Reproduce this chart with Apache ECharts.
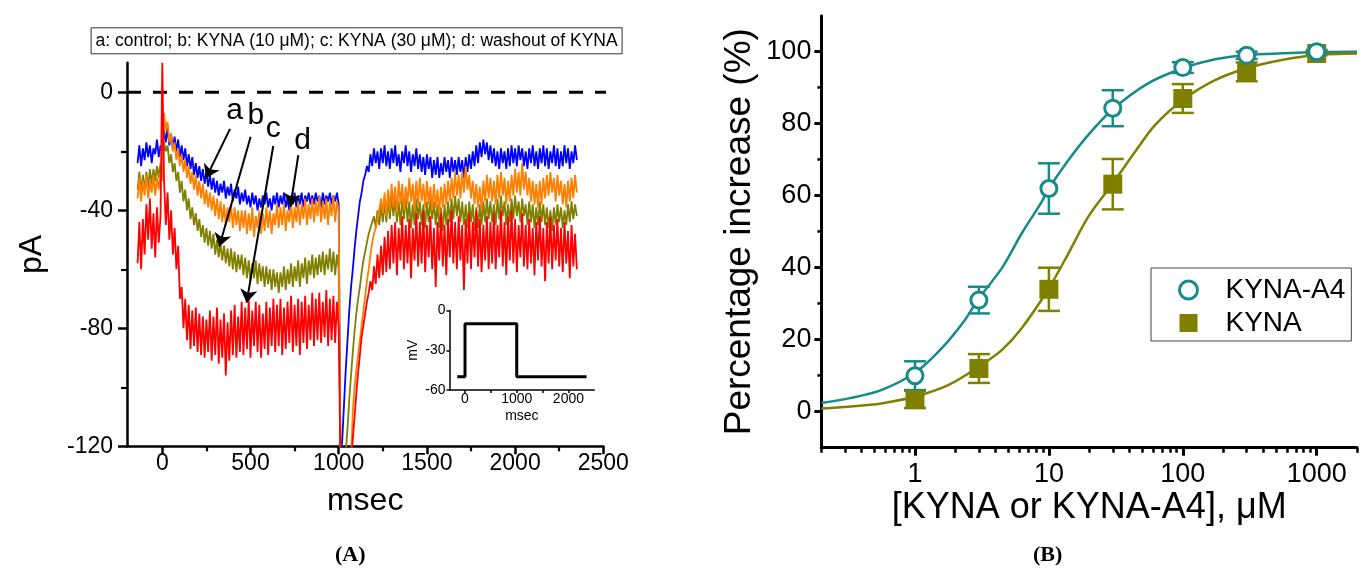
<!DOCTYPE html>
<html><head><meta charset="utf-8">
<script src="https://cdn.jsdelivr.net/npm/echarts@6/dist/echarts.min.js"></script>
<style>html,body{margin:0;padding:0;background:#fff}#c{width:1365px;height:571px}</style>
</head><body><div id="c"></div>
<script>
// ---------- Panel A: current traces (pA) vs time (msec) ----------
const tMs = [
-140,-130,-120,-110,-100,-90,-80,-70,-60,-50,-40,-30,-20,-10,0,10,20,30,40,50,
60,70,80,90,100,110,120,130,140,150,160,170,180,190,200,210,220,230,240,250,
260,270,280,290,300,310,320,330,340,350,360,370,380,390,400,410,420,430,440,450,
460,470,480,490,500,510,520,530,540,550,560,570,580,590,600,610,620,630,640,650,
660,670,680,690,700,710,720,730,740,750,760,770,780,790,800,810,820,830,840,850,
860,870,880,890,900,910,920,930,940,950,960,970,980,990,1000,1010,1020,1030,1040,1050,
1060,1070,1080,1090,1100,1110,1120,1130,1140,1150,1160,1170,1180,1190,1200,1210,1220,1230,1240,1250,
1260,1270,1280,1290,1300,1310,1320,1330,1340,1350,1360,1370,1380,1390,1400,1410,1420,1430,1440,1450,
1460,1470,1480,1490,1500,1510,1520,1530,1540,1550,1560,1570,1580,1590,1600,1610,1620,1630,1640,1650,
1660,1670,1680,1690,1700,1710,1720,1730,1740,1750,1760,1770,1780,1790,1800,1810,1820,1830,1840,1850,
1860,1870,1880,1890,1900,1910,1920,1930,1940,1950,1960,1970,1980,1990,2000,2010,2020,2030,2040,2050,
2060,2070,2080,2090,2100,2110,2120,2130,2140,2150,2160,2170,2180,2190,2200,2210,2220,2230,2240,2250,
2260,2270,2280,2290,2300,2310,2320,2330,2340,2350];

// a: control (blue)
const traceA = [
-24,-18,-25,-19,-23,-17,-22,-18,-24,-19,-21,-16,-22,-18,-20,-13,-17,-12,-18,-14,
-19,-15,-20,-16,-22,-18,-23,-19,-25,-21,-26,-22,-28,-24,-29,-25,-30,-26,-31,-27,
-32,-28,-33,-29,-34,-30,-35,-31,-34,-30,-36,-32,-35,-31,-37,-33,-36,-32,-38,-34,
-37,-33,-38,-35,-39,-34,-38,-35,-40,-36,-39,-35,-38,-34,-39,-36,-40,-35,-38,-34,
-39,-35,-38,-34,-39,-36,-40,-35,-38,-34,-39,-35,-38,-34,-39,-35,-37,-34,-38,-35,
-38,-34,-37,-35,-39,-34,-38,-35,-37,-34,-38,-35,-37,-34,-38,-125,-118,-106,-94,-84,
-74,-66,-60,-53,-47,-42,-37,-34,-30,-28,-25,-27,-21,-25,-19,-24,-20,-26,-19,-24,
-18,-25,-20,-26,-19,-24,-18,-25,-21,-27,-20,-24,-18,-25,-20,-27,-21,-25,-19,-26,
-21,-27,-22,-28,-21,-26,-22,-29,-23,-28,-22,-29,-24,-28,-22,-27,-23,-29,-22,-27,
-23,-28,-22,-27,-23,-29,-22,-27,-21,-26,-20,-25,-18,-24,-17,-22,-16,-21,-17,-23,
-18,-24,-19,-25,-20,-26,-19,-24,-20,-26,-19,-25,-18,-24,-19,-25,-18,-23,-19,-25,
-20,-26,-19,-24,-18,-25,-20,-26,-19,-24,-18,-25,-19,-26,-20,-24,-18,-25,-19,-26,
-20,-25,-18,-24,-19,-26,-20,-24,-18,-23];

// b: KYNA 10 uM (olive)
const traceB = [
-33,-27,-34,-28,-33,-27,-32,-26,-31,-26,-30,-25,-29,-24,-27,-17,-20,-18,-24,-21,
-27,-24,-30,-27,-34,-30,-37,-33,-40,-36,-43,-39,-45,-41,-47,-43,-49,-45,-51,-46,
-52,-47,-53,-48,-55,-50,-56,-51,-57,-52,-58,-53,-59,-53,-60,-54,-61,-55,-60,-55,
-62,-56,-63,-57,-64,-58,-63,-57,-65,-58,-64,-59,-66,-59,-65,-60,-67,-60,-66,-61,
-68,-61,-66,-59,-67,-60,-65,-58,-66,-59,-64,-57,-66,-58,-63,-56,-65,-57,-62,-55,
-63,-56,-62,-55,-61,-54,-62,-55,-60,-53,-61,-54,-62,-55,-60,-125,-125,-125,-122,-114,
-104,-96,-88,-81,-75,-70,-66,-61,-57,-54,-51,-48,-46,-44,-42,-46,-40,-45,-38,-44,
-37,-44,-36,-43,-35,-42,-36,-44,-37,-45,-36,-43,-35,-44,-37,-46,-38,-45,-36,-43,
-37,-45,-38,-46,-37,-44,-36,-43,-37,-45,-38,-46,-39,-47,-38,-45,-37,-44,-36,-43,
-35,-42,-36,-44,-37,-45,-38,-46,-37,-44,-38,-47,-39,-46,-38,-45,-37,-44,-36,-43,
-37,-44,-38,-45,-36,-43,-35,-42,-37,-45,-38,-44,-36,-43,-35,-42,-37,-44,-36,-42,
-38,-45,-37,-44,-38,-46,-39,-45,-37,-44,-38,-45,-39,-46,-40,-47,-39,-45,-38,-44,
-39,-46,-40,-45,-38,-44,-37,-43,-38,-42];

// c: KYNA 30 uM (red)
const traceC = [
-58,-44,-60,-43,-55,-38,-50,-36,-53,-41,-56,-39,-51,-42,10,-30,-45,-34,-50,-40,
-55,-46,-60,-52,-70,-66,-80,-70,-84,-72,-87,-74,-86,-73,-88,-75,-89,-76,-90,-77,
-88,-74,-91,-76,-89,-73,-92,-77,-90,-75,-96,-78,-91,-74,-89,-72,-90,-76,-88,-71,
-89,-73,-87,-70,-90,-74,-86,-71,-88,-72,-90,-75,-87,-71,-89,-73,-86,-70,-88,-72,
-86,-70,-89,-73,-87,-71,-85,-69,-88,-72,-86,-70,-89,-71,-85,-69,-87,-72,-84,-68,
-86,-70,-84,-68,-85,-71,-83,-67,-86,-70,-84,-69,-85,-71,-80,-125,-125,-125,-125,-125,
-125,-125,-125,-110,-102,-95,-89,-83,-79,-75,-71,-68,-64,-67,-59,-65,-55,-63,-52,-62,
-49,-61,-47,-60,-45,-58,-44,-62,-46,-57,-42,-60,-45,-58,-43,-63,-46,-57,-41,-59,
-44,-58,-40,-61,-45,-56,-42,-60,-46,-66,-44,-57,-41,-59,-45,-62,-43,-56,-40,-58,
-44,-60,-42,-57,-45,-67,-43,-58,-41,-60,-44,-56,-40,-59,-43,-61,-45,-57,-42,-60,
-44,-58,-41,-60,-45,-56,-40,-59,-44,-62,-42,-57,-40,-58,-43,-61,-45,-56,-41,-59,
-45,-60,-43,-58,-46,-62,-44,-57,-42,-59,-46,-64,-44,-58,-42,-60,-45,-57,-43,-59,
-46,-61,-44,-58,-47,-63,-45,-59,-48,-60];

// d: washout (orange)
const traceD = [
-36,-29,-37,-30,-35,-28,-36,-30,-34,-28,-35,-29,-33,-27,-30,-7,-13,-10,-17,-14,
-20,-17,-23,-19,-25,-21,-27,-23,-29,-25,-31,-27,-33,-28,-35,-30,-36,-31,-38,-33,
-39,-34,-40,-35,-42,-36,-43,-37,-44,-38,-45,-39,-44,-38,-46,-39,-45,-40,-47,-40,
-46,-40,-48,-41,-47,-39,-49,-42,-46,-40,-48,-41,-47,-39,-46,-40,-48,-41,-45,-38,
-46,-39,-45,-38,-47,-40,-44,-37,-46,-39,-44,-37,-45,-38,-43,-36,-45,-38,-43,-36,
-44,-37,-42,-35,-44,-37,-43,-36,-45,-37,-42,-35,-44,-37,-40,-125,-125,-125,-125,-125,
-125,-125,-108,-100,-94,-89,-84,-79,-74,-69,-64,-60,-55,-51,-48,-46,-43,-40,-36,-41,
-34,-42,-33,-40,-31,-39,-32,-41,-30,-38,-31,-40,-32,-38,-29,-37,-31,-40,-30,-38,
-29,-37,-31,-39,-30,-38,-32,-40,-31,-39,-33,-41,-32,-39,-31,-38,-30,-37,-29,-36,
-27,-35,-28,-36,-27,-34,-25,-33,-28,-36,-30,-38,-31,-39,-32,-40,-30,-37,-28,-36,
-29,-37,-30,-38,-28,-36,-27,-35,-29,-38,-30,-37,-28,-35,-26,-34,-27,-35,-24,-33,
-27,-35,-29,-37,-30,-38,-31,-39,-30,-38,-29,-36,-28,-35,-27,-34,-29,-37,-28,-35,
-30,-38,-31,-39,-30,-37,-29,-36,-28,-34];

const zeroLineX = [-200, 2580];
const zeroLineY = [0, 0];

// annotation letters and arrows (data coordinates)
const tagNames = ['a', 'b', 'c', 'd'];
const tagX = [410, 530, 629, 795];
const tagY = [-6.1, -7.8, -12.3, -16.3];
const arrowFromX = [384, 501, 629, 771];
const arrowFromY = [-12.4, -15.1, -18.2, -21.3];
const arrowToX = [248, 323, 478, 726];
const arrowToY = [-29.1, -52.3, -71.3, -38.8];

// inset voltage protocol
const stepX = [-150, 0, 0, 1000, 1000, 2350];
const stepY = [-50, -50, -10, -10, -50, -50];

// ticks
const aXTicks = [0, 500, 1000, 1500, 2000, 2500];
const aXMinor = [250, 750, 1250, 1750, 2250];
const aYTicks = [-120, -80, -40, 0];
const aYMinor = [-100, -60, -20];
const inXTicks = [0, 1000, 2000];
const inXMinor = [500, 1500];
const inYTicks = [-60, -30, 0];

// ---------- Panel B: concentration-response ----------
const concB = [1, 3, 10, 30, 100, 300, 1000];
const a4Mean = [10, 31, 62, 84.3, 95.6, 99, 100];
const a4Err = [4, 3.7, 7, 5, 1.5, 1, 0.5];
const kynaMean = [3.4, 12, 34, 63.2, 87, 94.4, 99.5];
const kynaErr = [2.4, 4, 6, 7, 4, 2.6, 0.5];

const a4FitX = [0.2, 0.32, 0.56, 1, 1.58, 2.36, 3, 4.44, 6.26, 8.83, 10, 14, 19.7, 30, 55, 100, 174, 300, 1000, 2000];
const a4FitY = [2.4, 3.7, 6.0, 10.8, 17.6, 25.5, 31.5, 39.8, 49.5, 58.3, 62, 69.9, 76.9, 84.0, 91.2, 95.4, 97.9, 99.1, 99.9, 100];
const kynaFitX = [0.2, 0.32, 0.56, 1, 1.77, 3, 4.44, 6.26, 10, 14, 19.7, 30, 44, 62, 100, 174, 300, 548, 1000, 2000];
const kynaFitY = [0.9, 1.4, 2.3, 4.2, 7.4, 12.5, 17.1, 23.2, 34.3, 44.0, 54.2, 63.4, 72.2, 79.6, 86.6, 92.1, 95.4, 97.7, 99.1, 99.5];

const bXTicks = [1, 10, 100, 1000];
const bXMinor = [0.2,0.3,0.4,0.5,0.6,0.7,0.8,0.9,2,3,4,5,6,7,8,9,20,30,40,50,60,70,80,90,200,300,400,500,600,700,800,900,2000];
const bYTicks = [0, 20, 40, 60, 80, 100];
const bYMinor = [10, 30, 50, 70, 90];

// ---------- chart ----------
const FONT = 'Liberation Sans';
const BLACK = '#000';
const TEAL = '#178a8a';
const OLIVE = '#808000';
const pairs = (xs, ys) => xs.map((x, i) => [x, ys[i]]);
const fmt = v => { const r = Math.round(v); return Math.abs(v - r) < 1e-6 ? String(r) : String(v); };

function mainAxis(o) {
  return Object.assign({
    type: 'value', splitLine: {show: false},
    axisLine: {onZero: false, lineStyle: {color: BLACK, width: o.lw}},
    axisTick: {customValues: o.ticks, length: o.tl, lineStyle: {color: BLACK, width: o.lw}},
    axisLabel: {customValues: o.labels || o.ticks, margin: o.margin, fontSize: o.fs, fontFamily: FONT, color: BLACK, formatter: fmt},
    nameLocation: 'middle', nameMoveOverlap: false,
    nameTextStyle: {fontSize: o.nfs, fontFamily: FONT, color: BLACK}
  }, o.extra);
}
function minorAxis(o) {
  return Object.assign({
    type: 'value', splitLine: {show: false},
    axisLine: {show: false, onZero: false},
    axisTick: {customValues: o.ticks, length: o.tl, lineStyle: {color: BLACK, width: o.lw}},
    axisLabel: {show: false}
  }, o.extra);
}

const xAxes = [
  mainAxis({lw: 2.5, ticks: aXTicks, tl: 8, margin: 6, fs: 23, nfs: 32,
    extra: {gridIndex: 0, min: -200, max: 2500, position: 'bottom', name: 'msec', nameGap: 39}}),
  minorAxis({lw: 2.2, ticks: aXMinor, tl: 5, extra: {gridIndex: 0, min: -200, max: 2500, position: 'bottom'}}),
  mainAxis({lw: 1.5, ticks: inXTicks, tl: 3, margin: 2, fs: 14, nfs: 14,
    extra: {gridIndex: 1, min: -300, max: 2500, position: 'bottom', name: 'msec', nameGap: 19}}),
  minorAxis({lw: 1.5, ticks: inXMinor, tl: 3, extra: {gridIndex: 1, min: -300, max: 2500, position: 'bottom'}}),
  mainAxis({lw: 3, ticks: bXTicks, tl: 8, margin: 13, fs: 27, nfs: 36,
    extra: {gridIndex: 2, type: 'log', logBase: 10, min: 0.2, max: 2000, position: 'bottom', name: '[KYNA or KYNA-A4], \u03bcM', nameGap: 42}}),
  minorAxis({lw: 2.5, ticks: bXMinor, tl: 5, extra: {gridIndex: 2, type: 'log', logBase: 10, min: 0.2, max: 2000, position: 'bottom'}})
];
const yAxes = [
  mainAxis({lw: 2.5, ticks: aYTicks, tl: 9, margin: 14, fs: 23, nfs: 32,
    extra: {gridIndex: 0, min: -120, max: 10, position: 'left', name: 'pA', nameGap: 79}}),
  minorAxis({lw: 2.2, ticks: aYMinor, tl: 6, extra: {gridIndex: 0, min: -120, max: 10, position: 'left'}}),
  mainAxis({lw: 1.5, ticks: inYTicks, tl: 3, margin: 4, fs: 14, nfs: 14,
    extra: {gridIndex: 1, min: -60, max: 0, position: 'left', name: 'mV', nameGap: 29}}),
  minorAxis({lw: 1.5, ticks: [], tl: 3, extra: {gridIndex: 1, min: -60, max: 0, position: 'left'}}),
  mainAxis({lw: 3, ticks: bYTicks, tl: 7, margin: 10, fs: 27, nfs: 37,
    extra: {gridIndex: 2, min: -10, max: 110, position: 'left', name: 'Percentage increase (%)', nameGap: 63}}),
  minorAxis({lw: 2.5, ticks: bYMinor, tl: 4, extra: {gridIndex: 2, min: -10, max: 110, position: 'left'}})
];

function trace(name, xs, ys, color) {
  return {type: 'line', name, xAxisIndex: 0, yAxisIndex: 0, data: pairs(xs, ys),
    symbol: 'none', lineStyle: {color, width: 1.8}, itemStyle: {color}, z: 3};
}
function errBars(name, xs, m, e, color) {
  return {type: 'custom', name, xAxisIndex: 4, yAxisIndex: 4, z: 4,
    data: xs.map((x, i) => [x, m[i] - e[i], m[i] + e[i]]),
    encode: {x: 0, y: [1, 2]},
    renderItem(params, api) {
      const x = api.value(0);
      const lo = api.coord([x, api.value(1)]);
      const hi = api.coord([x, api.value(2)]);
      const w = 11, st = {stroke: color, lineWidth: 2.5};
      return {type: 'group', children: [
        {type: 'line', shape: {x1: lo[0], y1: lo[1], x2: hi[0], y2: hi[1]}, style: st},
        {type: 'line', shape: {x1: lo[0] - w, y1: lo[1], x2: lo[0] + w, y2: lo[1]}, style: st},
        {type: 'line', shape: {x1: hi[0] - w, y1: hi[1], x2: hi[0] + w, y2: hi[1]}, style: st}
      ]};
    }};
}

const option = {
  animation: false,
  backgroundColor: '#fff',
  title: [
    {text: 'a: control; b: KYNA (10 \u03bcM); c: KYNA (30 \u03bcM); d: washout of KYNA',
     left: 90.6, top: 27.3, padding: [5, 5, 4, 5], borderColor: '#333', borderWidth: 1,
     textStyle: {fontSize: 17.5, fontWeight: 'normal', fontFamily: FONT, color: BLACK}},
    {text: '(A)', left: 335, top: 544, padding: 0, textStyle: {fontFamily: 'Liberation Serif', fontWeight: 'bold', fontSize: 22, color: BLACK}},
    {text: '(B)', left: 1033, top: 544, padding: 0, textStyle: {fontFamily: 'Liberation Serif', fontWeight: 'bold', fontSize: 22, color: BLACK}}
  ],
  legend: {
    data: [
      {name: 'KYNA-A4', icon: 'circle', itemStyle: {color: '#fff', borderColor: TEAL, borderWidth: 3, opacity: 1}},
      {name: 'KYNA', icon: 'rect', itemStyle: {color: OLIVE, opacity: 1}}
    ],
    orient: 'vertical', left: 1151, top: 268, itemWidth: 18, itemHeight: 18, itemGap: 5,
    padding: [8, 6, 4, 27], borderColor: '#444', borderWidth: 1, selectedMode: false,
    textStyle: {fontSize: 28, fontFamily: FONT, color: BLACK, padding: [0, 0, 0, 23]}
  },
  grid: [
    {left: 127, top: 62.8, width: 476.3, height: 383.5, outerBoundsMode: 'none'},
    {left: 449.5, top: 310.5, width: 144.8, height: 79.5, outerBoundsMode: 'none'},
    {left: 821.4, top: 15.7, width: 535.6, height: 432, outerBoundsMode: 'none'}
  ],
  xAxis: xAxes,
  yAxis: yAxes,
  series: [
    {type: 'line', name: 'zero', xAxisIndex: 0, yAxisIndex: 0, data: pairs(zeroLineX, zeroLineY), clip: false,
     symbol: 'none', z: 2, lineStyle: {color: BLACK, width: 3, type: [14, 12]}},
    trace('a', tMs, traceA, '#0000ff'),
    trace('b', tMs, traceB, '#808000'),
    trace('d', tMs, traceD, '#ff8000'),
    trace('c', tMs, traceC, '#ff0000'),
    {type: 'scatter', name: 'tags', xAxisIndex: 0, yAxisIndex: 0, z: 6, symbolSize: 1,
     itemStyle: {color: 'rgba(0,0,0,0)'},
     data: tagNames.map((n, i) => ({name: n, value: [tagX[i], tagY[i]]})),
     label: {show: true, position: 'inside', formatter: p => p.name, fontSize: 30, fontFamily: FONT,
             color: BLACK, textBorderWidth: 0, opacity: 1},
     markLine: {silent: true, animation: false, symbol: ['none', 'arrow'], symbolSize: 13,
       label: {show: false}, lineStyle: {color: BLACK, width: 2, type: 'solid', opacity: 1},
       emphasis: {disabled: true},
       data: tagNames.map((n, i) => [{coord: [arrowFromX[i], arrowFromY[i]]}, {coord: [arrowToX[i], arrowToY[i]]}])}},
    {type: 'line', name: 'step', xAxisIndex: 2, yAxisIndex: 2, data: pairs(stepX, stepY),
     symbol: 'none', lineStyle: {color: BLACK, width: 3}, z: 3},
    {type: 'line', name: 'KYNA-A4 fit', xAxisIndex: 4, yAxisIndex: 4, data: pairs(a4FitX, a4FitY),
     smooth: 0.3, symbol: 'none', lineStyle: {color: TEAL, width: 2.5}, z: 2},
    {type: 'line', name: 'KYNA fit', xAxisIndex: 4, yAxisIndex: 4, data: pairs(kynaFitX, kynaFitY),
     smooth: 0.3, symbol: 'none', lineStyle: {color: OLIVE, width: 2.5}, z: 2},
    errBars('KYNA err', concB, kynaMean, kynaErr, OLIVE),
    errBars('KYNA-A4 err', concB, a4Mean, a4Err, TEAL),
    {type: 'scatter', name: 'KYNA', xAxisIndex: 4, yAxisIndex: 4, data: pairs(concB, kynaMean),
     symbol: 'rect', symbolSize: 19, itemStyle: {color: OLIVE, opacity: 1}, z: 5},
    {type: 'scatter', name: 'KYNA-A4', xAxisIndex: 4, yAxisIndex: 4, data: pairs(concB, a4Mean),
     symbol: 'circle', symbolSize: 16, itemStyle: {color: '#fff', borderColor: TEAL, borderWidth: 3, opacity: 1}, z: 6}
  ]
};
const chart = echarts.init(document.getElementById('c'));
chart.setOption(option);
</script>
</body></html>
